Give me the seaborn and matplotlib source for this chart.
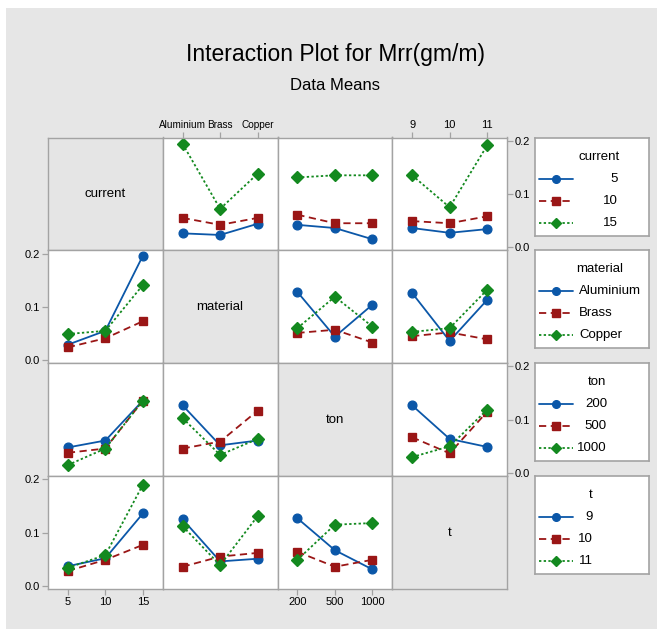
import numpy as np
import pandas as pd
import matplotlib
matplotlib.use("Agg")
import matplotlib.pyplot as plt
import seaborn as sns
from matplotlib.patches import Rectangle
from matplotlib.lines import Line2D

# ---------------- data (means of Mrr) ----------------
factors = ["current", "material", "ton", "t"]
current_levels = ["5", "10", "15"]
material_levels = ["Aluminium", "Brass", "Copper"]
ton_levels = ["200", "500", "1000"]
t_levels = ["9", "10", "11"]

# rows = level of the row factor (legend), columns = level of the column factor (x axis)
current_x_material = [[0.026, 0.023, 0.044], [0.055, 0.042, 0.055], [0.194, 0.072, 0.138]]
current_x_ton = [[0.042, 0.036, 0.015], [0.061, 0.045, 0.045], [0.131, 0.135, 0.135]]
current_x_t = [[0.036, 0.027, 0.034], [0.049, 0.045, 0.058], [0.135, 0.075, 0.191]]
material_x_current = [[0.029, 0.055, 0.196], [0.024, 0.041, 0.073], [0.049, 0.055, 0.141]]
material_x_ton = [[0.128, 0.044, 0.104], [0.051, 0.057, 0.033], [0.060, 0.119, 0.063]]
material_x_t = [[0.126, 0.036, 0.113], [0.045, 0.052, 0.039], [0.053, 0.060, 0.132]]
ton_x_current = [[0.048, 0.061, 0.136], [0.038, 0.046, 0.136], [0.015, 0.046, 0.136]]
ton_x_material = [[0.127, 0.052, 0.061], [0.046, 0.059, 0.117], [0.103, 0.034, 0.064]]
ton_x_t = [[0.127, 0.064, 0.049], [0.067, 0.037, 0.115], [0.030, 0.050, 0.119]]
t_x_current = [[0.037, 0.052, 0.136], [0.028, 0.049, 0.077], [0.034, 0.058, 0.190]]
t_x_material = [[0.125, 0.046, 0.051], [0.036, 0.055, 0.062], [0.112, 0.039, 0.131]]
t_x_ton = [[0.127, 0.067, 0.031], [0.064, 0.036, 0.049], [0.049, 0.115, 0.118]]

y_ticks = [0.0, 0.1, 0.2]
y_tick_labels = ["0.0", "0.1", "0.2"]
title = "Interaction Plot for Mrr(gm/m)"
subtitle = "Data Means"

levels = {"current": current_levels, "material": material_levels,
          "ton": ton_levels, "t": t_levels}
cells = {
    ("current", "material"): current_x_material, ("current", "ton"): current_x_ton,
    ("current", "t"): current_x_t, ("material", "current"): material_x_current,
    ("material", "ton"): material_x_ton, ("material", "t"): material_x_t,
    ("ton", "current"): ton_x_current, ("ton", "material"): ton_x_material,
    ("ton", "t"): ton_x_t, ("t", "current"): t_x_current,
    ("t", "material"): t_x_material, ("t", "ton"): t_x_ton,
}

# ---------------- style ----------------
sns.set_style("white")
plt.rcParams["font.family"] = ["Liberation Sans", "DejaVu Sans"]
plt.rcParams["text.color"] = "black"

colors = ["#0b57a8", "#9a1616", "#13891f"]
markers = ["o", "s", "D"]
linestyles = ["-", (0, (4, 2.5)), (0, (1.3, 1.3))]
spine_col = "#a3a3a3"
diag_col = "#e5e5e5"
bg_col = "#e6e6e6"

W, H = 657, 629
fig = plt.figure(figsize=(W / 100, H / 100), dpi=100)
fig.patch.set_facecolor("white")
fig.patches.append(Rectangle((6 / W, 0), 1 - 6 / W, 1 - 8 / H, transform=fig.transFigure,
                             facecolor=bg_col, edgecolor="none", zorder=-10))

fig.text(335 / W, 1 - 60.5 / H, title, ha="center", va="baseline", fontsize=16.5)
fig.text(335 / W, 1 - 90.5 / H, subtitle, ha="center", va="baseline", fontsize=12)

x0, y0 = 48, 137.5
pw, ph = 114.75, 112.9


def px_rect(x, y, w, h):
    return [x / W, 1 - (y + h) / H, w / W, h / H]


for i, rf in enumerate(factors):
    for j, cf in enumerate(factors):
        ax = fig.add_axes(px_rect(x0 + j * pw, y0 + i * ph, pw, ph))
        for s in ax.spines.values():
            s.set_color(spine_col)
            s.set_linewidth(1.0)
        ax.tick_params(which="both", left=False, right=False, top=False, bottom=False,
                       labelleft=False, labelright=False, labeltop=False, labelbottom=False,
                       labelcolor="black", labelsize=8, length=4,
                       width=0.9, pad=1.5, color=spine_col)
        if i == j:
            ax.set_facecolor(diag_col)
            ax.set_xticks([])
            ax.set_yticks([])
            ax.text(0.5, 0.5, rf, transform=ax.transAxes, ha="center", va="center",
                    fontsize=9.5)
            continue
        ax.set_facecolor("white")
        rl, cl = levels[rf], levels[cf]
        vals = cells[(rf, cf)]
        df = pd.DataFrame([{"x": c, "lvl": r, "y": vals[a][b]}
                           for a, r in enumerate(rl) for b, c in enumerate(cl)])
        sns.pointplot(data=df, x="x", y="y", hue="lvl", order=cl, hue_order=rl,
                      palette=colors, markers=markers, linestyles=linestyles,
                      errorbar=None, legend=False, ax=ax, markersize=6.3,
                      linewidth=1.3)
        ax.set_xlim(-0.53, 2.53)
        ax.set_ylim(-0.006, 0.206)
        ax.set_xlabel("")
        ax.set_ylabel("")
        ax.set_yticks(y_ticks)
        ax.set_yticklabels(y_tick_labels)
        if i == 0 and j in (1, 3):
            ax.tick_params(axis="x", top=True, labeltop=True,
                           labelsize=7.2 if cf == "material" else 8)
        if i == 3 and j in (0, 2):
            ax.tick_params(axis="x", bottom=True, labelbottom=True)
        if j == 0 and i in (1, 3):
            ax.tick_params(axis="y", left=True, labelleft=True)
        if j == 3 and i in (0, 2):
            ax.tick_params(axis="y", right=True, labelright=True)

# ---------------- legends ----------------
label_align = {"current": ("right", 618), "material": ("left", 579),
               "ton": ("right", 607), "t": ("right", 593)}
title_x = {"current": 599, "material": 600, "ton": 597, "t": 591}
for i, rf in enumerate(factors):
    top = y0 + i * ph
    lax = fig.add_axes(px_rect(535, top, 114, 98))
    lax.set_xlim(535, 649)
    lax.set_ylim(top + 98, top)
    lax.set_xticks([])
    lax.set_yticks([])
    lax.set_facecolor("white")
    for s in lax.spines.values():
        s.set_color(spine_col)
        s.set_linewidth(1.2)
    lax.text(title_x[rf], top + 19, rf, ha="center", va="center", fontsize=9.5)
    ha, lx = label_align[rf]
    for k, lev in enumerate(levels[rf]):
        yy = top + 41 + k * 22
        lax.add_line(Line2D([539, 573], [yy, yy], color=colors[k], lw=1.3,
                            linestyle=linestyles[k]))
        lax.add_line(Line2D([556], [yy], color=colors[k], marker=markers[k],
                            markersize=5.5, linestyle="none"))
        lax.text(lx, yy, lev, ha=ha, va="center", fontsize=9.5)

fig.savefig("out.png", dpi=100, facecolor=fig.get_facecolor())
